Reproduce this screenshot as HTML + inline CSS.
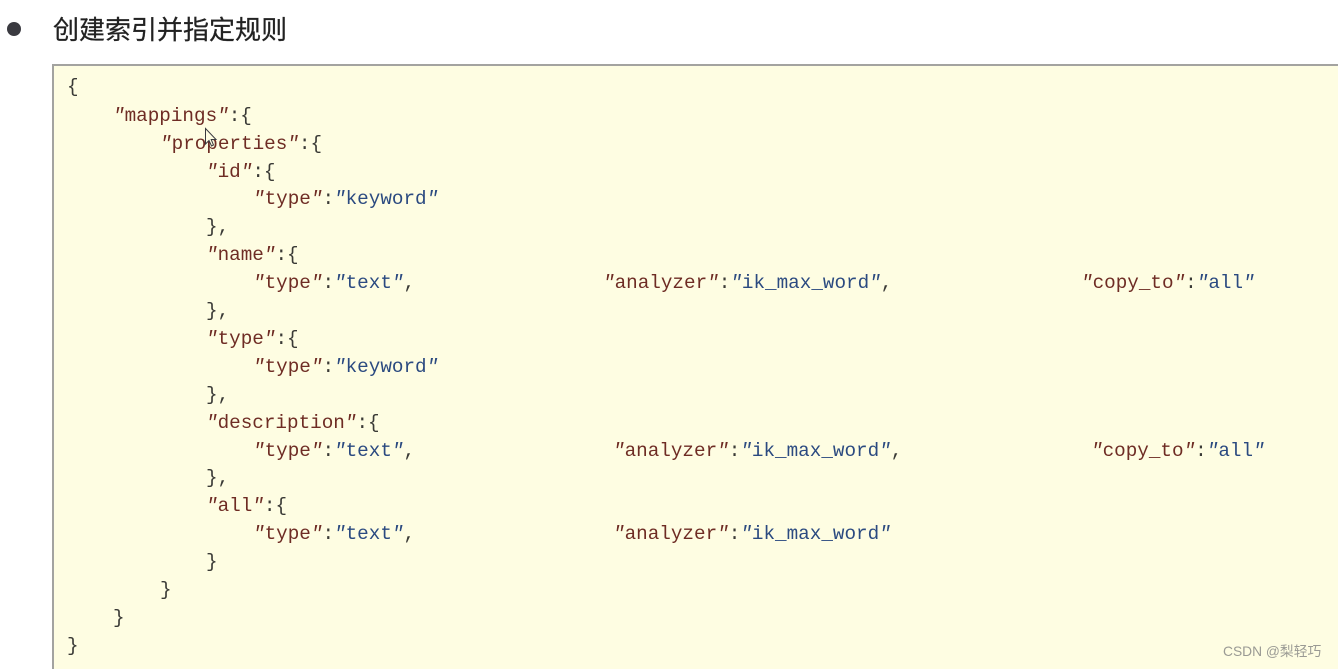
<!DOCTYPE html>
<html>
<head>
<meta charset="utf-8">
<style>
html,body{margin:0;padding:0;background:#fff;width:1338px;height:669px;overflow:hidden}
#wrap{position:absolute;left:0;top:0;width:1338px;height:669px;overflow:hidden;background:#fff}
#box{position:absolute;left:52px;top:64px;width:1286px;height:605px;background:#fefde2;border-left:2px solid #a3a3a0;border-top:2px solid #a3a3a0;box-sizing:border-box}
.dot{position:absolute;left:7px;top:22px;width:14px;height:14px;border-radius:50%;background:#3a3a40}
.h{position:absolute;left:53px;top:11px;font:400 26px/36px "Noto Sans CJK SC","WenQuanYi Zen Hei",sans-serif;color:#222;white-space:nowrap;-webkit-text-stroke:.25px #222}
.l{position:absolute;font:19.3px/28px "Liberation Mono",monospace;color:#3a3a36;white-space:pre;letter-spacing:0}
.k{color:#6e2c24}
.s{color:#2b4a80}
.wm{position:absolute;left:1223px;top:642px;font:13.8px/20px "Liberation Sans","Noto Sans CJK SC",sans-serif;color:#9a9a94;white-space:nowrap}
</style>
</head>
<body>
<div id="wrap">
<div class="dot"></div>
<div class="h">创建索引并指定规则</div>
<div id="box"></div>

<div class="l" style="left:67px;top:73px">{</div>
<div class="l" style="left:113px;top:102px"><span class="k"><i>"</i>mappings<i>"</i></span>:{</div>
<div class="l" style="left:160px;top:130px"><span class="k"><i>"</i>properties<i>"</i></span>:{</div>
<div class="l" style="left:206px;top:158px"><span class="k"><i>"</i>id<i>"</i></span>:{</div>
<div class="l" style="left:253px;top:185px"><span class="k"><i>"</i>type<i>"</i></span>:<span class="s"><i>"</i>keyword<i>"</i></span></div>
<div class="l" style="left:206px;top:213px">},</div>
<div class="l" style="left:206px;top:241px"><span class="k"><i>"</i>name<i>"</i></span>:{</div>
<div class="l" style="left:253px;top:269px"><span class="k"><i>"</i>type<i>"</i></span>:<span class="s"><i>"</i>text<i>"</i></span>,</div>
<div class="l" style="left:603px;top:269px"><span class="k"><i>"</i>analyzer<i>"</i></span>:<span class="s"><i>"</i>ik_max_word<i>"</i></span>,</div>
<div class="l" style="left:1081px;top:269px"><span class="k"><i>"</i>copy_to<i>"</i></span>:<span class="s"><i>"</i>all<i>"</i></span></div>
<div class="l" style="left:206px;top:297px">},</div>
<div class="l" style="left:206px;top:325px"><span class="k"><i>"</i>type<i>"</i></span>:{</div>
<div class="l" style="left:253px;top:353px"><span class="k"><i>"</i>type<i>"</i></span>:<span class="s"><i>"</i>keyword<i>"</i></span></div>
<div class="l" style="left:206px;top:381px">},</div>
<div class="l" style="left:206px;top:409px"><span class="k"><i>"</i>description<i>"</i></span>:{</div>
<div class="l" style="left:253px;top:437px"><span class="k"><i>"</i>type<i>"</i></span>:<span class="s"><i>"</i>text<i>"</i></span>,</div>
<div class="l" style="left:613px;top:437px"><span class="k"><i>"</i>analyzer<i>"</i></span>:<span class="s"><i>"</i>ik_max_word<i>"</i></span>,</div>
<div class="l" style="left:1091px;top:437px"><span class="k"><i>"</i>copy_to<i>"</i></span>:<span class="s"><i>"</i>all<i>"</i></span></div>
<div class="l" style="left:206px;top:464px">},</div>
<div class="l" style="left:206px;top:492px"><span class="k"><i>"</i>all<i>"</i></span>:{</div>
<div class="l" style="left:253px;top:520px"><span class="k"><i>"</i>type<i>"</i></span>:<span class="s"><i>"</i>text<i>"</i></span>,</div>
<div class="l" style="left:613px;top:520px"><span class="k"><i>"</i>analyzer<i>"</i></span>:<span class="s"><i>"</i>ik_max_word<i>"</i></span></div>
<div class="l" style="left:206px;top:548px">}</div>
<div class="l" style="left:160px;top:576px">}</div>
<div class="l" style="left:113px;top:604px">}</div>
<div class="l" style="left:67px;top:632px">}</div>

<svg style="position:absolute;left:204px;top:127px" width="16" height="24" viewBox="0 0 16 24">
<path d="M1.5 1.5 L1.5 17 L5 13.5 L7.5 19 L9.5 18 L7.2 12.5 L12 12.5 Z" fill="#fefde2" stroke="#3a3a40" stroke-width="1"/>
</svg>

<div class="wm">CSDN @梨轻巧</div>
</div>
</body>
</html>
